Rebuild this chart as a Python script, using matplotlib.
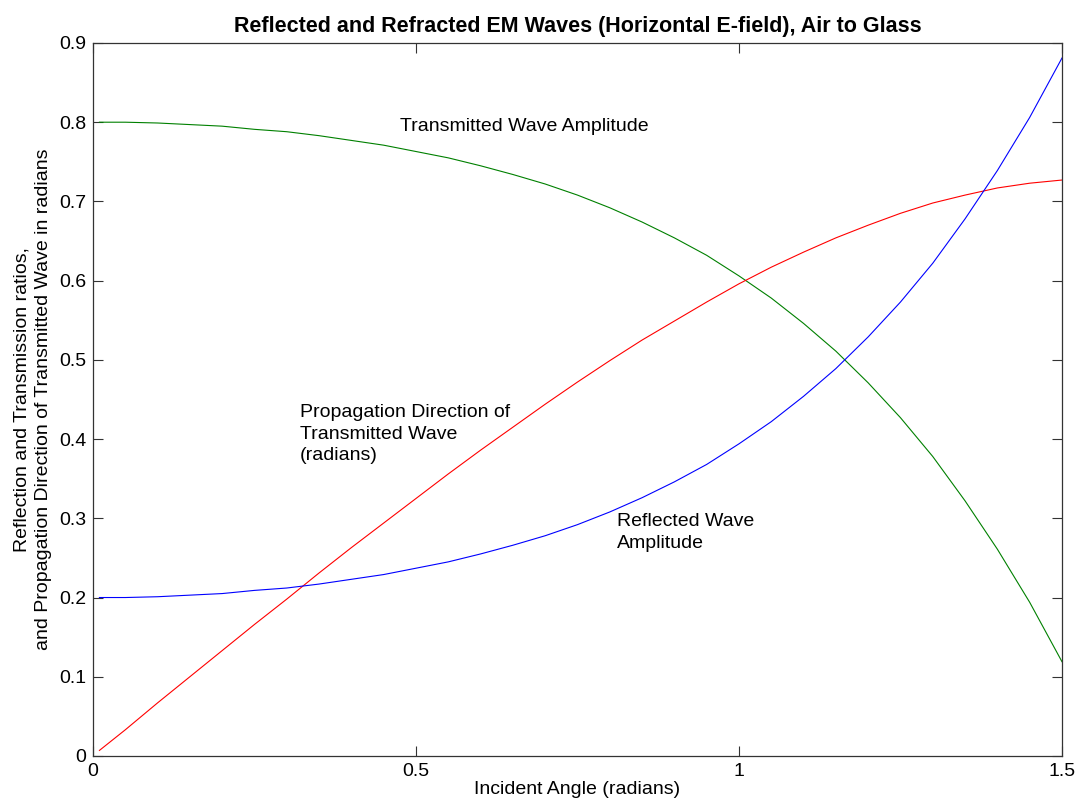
import matplotlib
matplotlib.use("Agg")
import matplotlib.pyplot as plt

plt.rcParams['font.family'] = ['Liberation Sans', 'DejaVu Sans']

# incident angle (rad) and the three curves, glass index 1.5, s-polarised
theta = [0.01, 0.05, 0.10, 0.15, 0.20, 0.25, 0.30, 0.35, 0.40, 0.45, 0.50,
         0.55, 0.60, 0.65, 0.70, 0.75, 0.80, 0.85, 0.90, 0.95, 1.00, 1.05,
         1.10, 1.15, 1.20, 1.25, 1.30, 1.35, 1.40, 1.45, 1.50]
reflected = [0.200, 0.200, 0.201, 0.203, 0.205, 0.209, 0.212, 0.217, 0.223,
             0.229, 0.237, 0.245, 0.255, 0.266, 0.278, 0.292, 0.308, 0.326,
             0.346, 0.368, 0.394, 0.422, 0.454, 0.489, 0.529, 0.573, 0.622,
             0.678, 0.739, 0.806, 0.881]
transmitted = [0.800, 0.800, 0.799, 0.797, 0.795, 0.791, 0.788, 0.783, 0.777,
               0.771, 0.763, 0.755, 0.745, 0.734, 0.722, 0.708, 0.692, 0.674,
               0.654, 0.632, 0.606, 0.578, 0.546, 0.511, 0.471, 0.427, 0.378,
               0.322, 0.261, 0.194, 0.119]
refr_angle = [0.007, 0.033, 0.067, 0.100, 0.133, 0.166, 0.198, 0.231, 0.263,
              0.294, 0.325, 0.356, 0.386, 0.415, 0.444, 0.472, 0.499, 0.525,
              0.549, 0.573, 0.596, 0.617, 0.636, 0.654, 0.670, 0.685, 0.698,
              0.708, 0.717, 0.723, 0.727]

xticks = [0, 0.5, 1, 1.5]
xticklabels = ['0', '0.5', '1', '1.5']
yticks = [0, 0.1, 0.2, 0.3, 0.4, 0.5, 0.6, 0.7, 0.8, 0.9]
yticklabels = ['0', '0.1', '0.2', '0.3', '0.4', '0.5', '0.6', '0.7', '0.8', '0.9']

fs = 14

fig = plt.figure(figsize=(10.81, 8.08), dpi=100)
ax = fig.add_axes([0.086, 0.0644, 0.8964, 0.8824])

ax.plot(theta, transmitted, color=(0, 0.5, 0), linewidth=0.8)
ax.plot(theta, refr_angle, color='red', linewidth=0.8)
ax.plot(theta, reflected, color='blue', linewidth=0.8)

ax.set_xlim(0, 1.5)
ax.set_ylim(0, 0.9)
ax.set_xticks(xticks)
ax.set_xticklabels(xticklabels)
ax.set_yticks(yticks)
ax.set_yticklabels(yticklabels)
ax.tick_params(direction='in', length=7, width=0.8, labelsize=fs,
               top=True, right=True, pad=5, colors='#333333', labelcolor='black')
for sp in ax.spines.values():
    sp.set_linewidth(0.9)
    sp.set_color('#333333')

ax.text(0.475, 0.794, 'Transmitted Wave Amplitude', fontsize=fs, va='center')
ax.text(0.32, 0.406, 'Propagation Direction of\nTransmitted Wave\n(radians)',
        fontsize=fs, va='center', linespacing=1.35)
ax.text(0.811, 0.282, 'Reflected Wave\nAmplitude', fontsize=fs, va='center',
        linespacing=1.35)

ax.set_xlabel('Incident Angle (radians)', fontsize=fs, labelpad=1)
ax.set_ylabel('Reflection and Transmission ratios,\n'
              'and Propagation Direction of Transmitted Wave in radians',
              fontsize=fs, labelpad=5, linespacing=1.35)
ax.set_title('Reflected and Refracted EM Waves (Horizontal E-field), Air to Glass',
             fontsize=15.5, fontweight='bold', pad=8)

fig.savefig('out.png', dpi=100)
